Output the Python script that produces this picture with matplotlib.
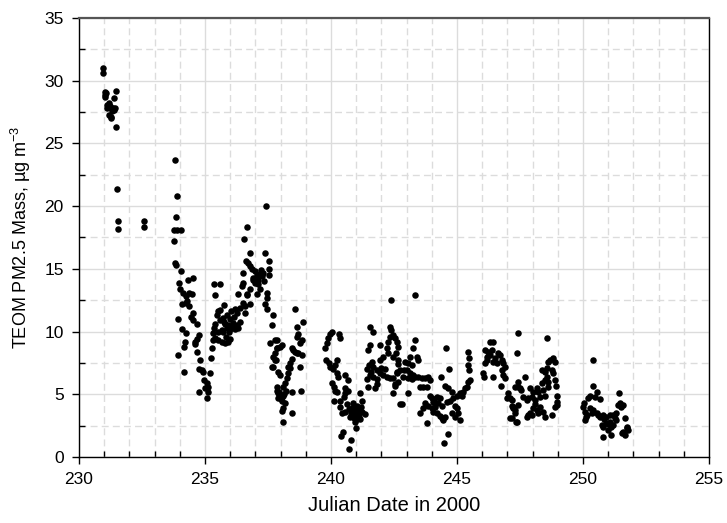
import matplotlib
matplotlib.use("Agg")
import matplotlib.pyplot as plt
from matplotlib.ticker import MultipleLocator

plt.rcParams['font.family'] = ['Liberation Sans', 'DejaVu Sans']

# TEOM PM2.5 readings, grouped by stretch of days
seg_a_x = [230.96, 230.94, 231.02, 231.05, 231.08, 231.03, 231.10, 231.15, 231.18, 231.22,
           231.12, 231.20, 231.25, 231.28, 231.30, 231.33, 231.45, 231.40, 231.47, 231.38,
           231.43, 231.50, 231.53, 231.53, 232.56, 232.56, 231.14, 231.24]
seg_a_y = [31.0, 30.6, 29.1, 28.9, 29.0, 28.7, 28.1, 28.0, 28.2, 27.9,
           27.8, 27.3, 27.1, 27.0, 27.6, 27.8, 29.2, 28.6, 26.3, 27.7,
           27.8, 21.4, 18.8, 18.2, 18.8, 18.3, 27.9, 28.0]

seg_b_x = [233.81, 233.87, 233.85, 233.75, 233.90, 234.03, 233.78, 233.81, 233.85, 234.03,
           233.98, 234.00, 234.14, 234.25, 234.37, 234.47, 234.54, 234.34, 234.08, 234.25,
           234.37, 234.30, 233.94, 234.51, 234.54, 234.70, 234.10, 234.23, 234.77, 234.70,
           234.60, 234.20, 234.17, 233.94, 234.17, 234.67, 234.80, 234.87, 234.77, 234.93,
           234.96, 235.07, 235.00, 235.10, 235.13, 234.77, 235.09, 234.62, 234.45]
seg_b_y = [23.7, 20.8, 19.1, 18.1, 18.1, 18.1, 17.2, 15.5, 15.3, 14.85,
           13.9, 13.4, 13.1, 12.8, 13.1, 13.0, 14.3, 14.1, 12.2, 12.3,
           12.0, 12.4, 11.0, 11.45, 10.95, 10.6, 10.2, 9.9, 9.7, 9.4,
           9.2, 9.2, 8.8, 8.1, 6.8, 8.4, 7.7, 6.9, 7.0, 6.8,
           6.1, 5.9, 5.5, 5.2, 5.6, 5.2, 4.7, 9.0, 11.2]

seg_c_x = [235.20, 235.22, 235.26, 235.30, 235.33, 235.36, 235.40, 235.46, 235.53, 235.60,
           235.40, 235.37, 235.60, 235.40, 235.53, 235.66, 235.80, 235.93, 236.00, 235.60,
           235.73, 235.86, 235.99, 236.12, 236.26, 235.80, 235.93, 235.76, 235.66, 235.86,
           236.06, 236.19, 236.32, 236.28, 236.39, 236.52, 236.65, 236.32, 236.45, 236.52,
           236.59, 236.79, 236.65, 236.79, 236.92, 237.05, 237.18, 237.31, 237.25, 237.12,
           236.52, 236.63, 236.72, 236.79, 236.85, 236.98, 236.79, 236.55, 236.68, 237.42,
           237.38, 237.52, 237.55, 237.52, 237.12, 237.18, 237.05, 237.45, 237.47, 237.38,
           237.45, 237.68, 237.64, 237.58, 237.84, 237.85, 237.76, 237.80, 237.64, 237.85,
           237.90, 237.90, 235.70, 236.05, 236.15, 235.95, 236.40, 236.90, 237.00, 237.22,
           235.50, 235.85, 236.20, 236.60, 237.35, 235.75, 236.00]
seg_c_y = [6.7, 7.9, 8.7, 9.3, 9.9, 10.3, 10.6, 11.3, 11.6, 11.7,
           12.9, 13.8, 13.8, 9.5, 9.3, 9.2, 9.1, 9.2, 9.4, 10.9,
           11.1, 11.3, 11.0, 10.7, 10.5, 10.6, 10.5, 12.1, 10.1, 10.3,
           10.4, 10.2, 10.3, 11.5, 11.9, 12.3, 12.9, 13.0, 13.6, 13.9,
           11.5, 12.2, 13.0, 13.4, 14.1, 14.5, 14.6, 14.7, 14.4, 14.1,
           14.7, 15.6, 15.5, 15.2, 15.0, 14.8, 16.3, 17.4, 18.3, 20.0,
           16.3, 15.6, 15.0, 14.5, 13.8, 13.4, 13.0, 13.1, 12.7, 12.2,
           11.8, 11.3, 10.5, 9.1, 9.3, 8.7, 8.3, 7.7, 7.2, 5.6,
           5.2, 4.7, 10.0, 11.6, 11.2, 10.0, 10.8, 14.3, 13.9, 14.9,
           10.0, 9.6, 11.8, 12.0, 14.0, 10.8, 10.2]

seg_d_x = [237.78, 237.87, 237.98, 238.04, 237.71, 237.78, 237.68, 237.91, 237.98, 237.84,
           237.91, 237.98, 238.04, 238.10, 237.95, 238.10, 238.17, 238.24, 238.30, 238.37,
           238.20, 238.04, 238.10, 238.08, 238.30, 238.37, 238.44, 238.44, 238.50, 238.57,
           238.64, 238.70, 238.84, 238.64, 238.70, 238.84, 238.77, 238.64, 238.87, 238.57,
           238.77, 238.81, 238.44, 238.46, 238.17, 238.00, 238.14]
seg_d_y = [9.3, 8.7, 8.8, 8.9, 8.0, 7.7, 7.2, 6.8, 6.5, 5.3,
           5.07, 4.8, 4.5, 4.9, 5.2, 5.6, 5.9, 6.3, 6.7, 7.1,
           5.3, 3.7, 3.9, 2.8, 7.2, 7.5, 7.85, 8.66, 8.5, 8.4,
           8.3, 8.26, 8.1, 9.6, 9.8, 9.3, 9.06, 10.4, 10.8, 11.8,
           7.2, 5.3, 5.2, 3.5, 4.3, 4.6, 5.0]

seg_e_x = [240.03, 239.96, 239.90, 239.83, 239.76, 240.30, 240.34, 239.80, 239.92, 239.97,
           240.08, 240.22, 240.16, 240.22, 240.29, 240.03, 240.10, 240.16, 240.22, 240.13,
           240.36, 240.56, 240.66, 240.56, 240.69, 240.56, 240.50, 240.36, 240.43, 240.56,
           240.70, 240.83, 240.90, 240.97, 241.03, 241.10, 241.23, 241.36, 240.95, 241.10,
           240.76, 240.90, 241.00, 240.80, 240.46, 240.40, 240.79, 240.71, 241.00, 241.15,
           241.22, 241.18, 241.05, 240.62, 240.88, 240.93, 241.07, 241.15]
seg_e_y = [10.0, 9.8, 9.5, 9.06, 8.7, 9.8, 9.5, 7.7, 7.5, 7.2,
           7.0, 7.7, 7.3, 6.7, 6.4, 5.9, 5.6, 5.3, 5.2, 4.5,
           4.5, 6.5, 6.1, 5.5, 5.3, 5.07, 4.8, 3.99, 3.5, 3.6,
           3.8, 3.9, 3.6, 3.3, 3.0, 3.6, 3.6, 3.4, 2.8, 3.2,
           3.2, 3.4, 3.8, 3.5, 2.0, 1.67, 1.35, 0.6, 2.3, 5.1,
           4.5, 3.99, 4.1, 4.2, 4.3, 3.1, 3.4, 3.0]

seg_f_x = [241.41, 241.52, 241.61, 241.68, 241.81, 241.94, 242.08, 242.21, 242.34, 241.55,
           241.68, 241.81, 241.41, 241.48, 241.75, 241.81, 241.55, 241.66, 241.55, 241.48,
           241.94, 242.21, 242.27, 242.08, 241.94, 242.40, 242.34, 242.40, 242.47, 242.54,
           242.60, 242.67, 242.57, 242.47, 242.67, 242.27, 242.34, 242.67, 242.60, 242.47,
           242.54, 242.74, 243.33, 243.33, 243.27, 243.13, 243.40, 243.46, 242.94, 243.07,
           243.20, 243.00, 243.13, 243.27, 242.74, 242.60, 242.87, 243.07, 243.33, 243.46,
           243.60, 243.73, 243.86, 243.93, 243.53, 243.66, 243.80, 242.67, 242.54, 242.47,
           243.07, 242.80, 241.60, 242.00, 242.15, 242.90, 243.20]
seg_f_y = [7.0, 7.3, 7.6, 7.2, 6.9, 6.7, 6.5, 6.4, 6.3, 6.5,
           6.4, 6.2, 6.2, 5.6, 5.5, 5.8, 10.4, 10.0, 8.9, 8.5,
           8.9, 8.66, 8.26, 8.0, 7.7, 12.5, 10.4, 10.1, 9.7, 9.5,
           9.2, 8.8, 8.26, 8.0, 7.7, 9.2, 9.6, 7.4, 6.7, 6.3,
           5.8, 4.2, 12.9, 9.3, 8.7, 8.0, 8.0, 7.7, 7.6, 7.5,
           7.3, 6.9, 6.7, 6.5, 6.9, 6.8, 6.4, 6.3, 6.4, 6.4,
           6.3, 6.3, 6.35, 6.1, 5.6, 5.6, 5.6, 6.0, 5.7, 5.1,
           5.1, 4.2, 6.8, 7.1, 7.0, 6.9, 6.2]

seg_g_x = [243.93, 243.99, 244.06, 244.19, 244.33, 244.26, 244.13, 243.99, 243.86, 243.73,
           243.66, 243.53, 244.06, 244.19, 244.33, 244.39, 244.46, 244.52, 243.80, 244.35,
           244.56, 244.70, 244.52, 244.66, 244.79, 244.72, 244.85, 244.99, 245.12, 245.25,
           245.38, 245.45, 245.52, 245.32, 245.19, 244.92, 244.99, 245.05, 245.12, 244.92,
           244.79, 244.66, 244.50, 245.45, 245.49, 245.42, 245.46, 244.10, 244.40, 244.60]
seg_g_y = [4.9, 4.7, 4.4, 4.8, 4.7, 4.3, 4.0, 3.9, 4.1, 4.3,
           3.9, 3.5, 3.6, 3.5, 3.3, 3.1, 2.95, 3.2, 2.7, 6.4,
           8.7, 7.0, 5.7, 5.5, 5.2, 4.5, 4.7, 4.9, 5.1, 5.2,
           5.6, 6.0, 6.1, 5.5, 4.9, 4.1, 3.9, 3.5, 2.95, 3.2,
           3.5, 1.8, 1.1, 8.4, 7.9, 7.3, 6.9, 4.5, 4.1, 4.4]

seg_h_x = [246.30, 246.44, 246.11, 246.24, 246.37, 246.31, 246.18, 246.11, 246.04, 246.07,
           246.44, 246.58, 246.71, 246.77, 246.84, 246.90, 246.77, 246.84, 246.90, 246.73,
           246.44, 247.04, 247.10, 246.97, 247.17, 247.24, 247.10, 247.30, 247.37, 247.43,
           247.37, 247.43, 246.20, 246.50, 246.62]
seg_h_y = [9.2, 9.2, 8.5, 8.4, 8.5, 8.1, 7.7, 7.5, 6.7, 6.35,
           7.6, 7.5, 8.1, 7.7, 7.5, 7.2, 6.9, 6.5, 6.3, 5.7,
           6.4, 5.1, 4.7, 4.7, 4.1, 3.9, 3.1, 3.5, 2.8, 9.9,
           8.3, 5.6, 8.0, 7.9, 8.3]

seg_i_x = [247.17, 247.23, 247.30, 247.17, 247.36, 247.43, 247.30, 247.43, 247.50, 247.56,
           247.70, 247.63, 247.76, 247.83, 247.90, 248.03, 247.96, 248.09, 248.16, 248.22,
           248.29, 248.43, 248.49, 247.76, 247.83, 247.90, 248.03, 247.96, 248.16, 248.29,
           248.22, 248.43, 248.49, 248.76, 248.36, 248.36, 248.49, 248.56, 248.62, 248.69,
           248.83, 248.89, 248.76, 248.83, 248.56, 248.49, 248.62, 248.89, 248.93, 248.96,
           248.96, 248.96, 248.89, 248.56, 248.10, 248.60]
seg_i_y = [4.55, 4.0, 3.75, 3.1, 2.8, 4.15, 5.6, 6.0, 5.5, 5.34,
           6.4, 4.8, 4.55, 4.7, 5.5, 5.2, 4.8, 4.55, 5.5, 5.2,
           4.8, 5.34, 4.9, 3.2, 3.35, 3.5, 3.9, 3.35, 3.75, 4.0,
           3.5, 3.6, 3.2, 3.35, 5.9, 6.9, 6.8, 7.06, 7.6, 7.7,
           7.86, 7.6, 6.9, 6.7, 6.4, 6.1, 6.0, 6.1, 5.65, 4.9,
           4.4, 4.15, 4.0, 9.46, 4.2, 5.6]

seg_j_x = [250.38, 250.41, 250.57, 250.27, 250.20, 250.67, 250.47, 250.01, 250.07, 250.14,
           250.07, 250.27, 250.34, 250.41, 250.54, 250.60, 250.67, 250.80, 250.93, 251.07,
           251.20, 251.33, 250.74, 250.80, 250.93, 251.07, 251.13, 251.00, 250.80, 251.10,
           251.27, 251.20, 251.33, 251.44, 251.40, 251.47, 251.60, 251.67, 251.73, 251.60,
           251.80, 251.67, 251.53, 250.04, 250.10, 250.85, 251.00, 251.50, 251.75]
seg_j_y = [7.7, 5.65, 5.2, 4.9, 4.7, 4.6, 4.8, 3.96, 3.6, 3.35,
           2.95, 3.88, 3.48, 3.75, 3.48, 3.35, 3.22, 3.35, 3.22, 3.35,
           3.35, 3.48, 2.55, 2.42, 2.7, 2.82, 2.42, 2.15, 1.6, 1.75,
           3.08, 2.55, 2.95, 5.1, 4.15, 4.28, 4.15, 3.08, 2.28, 2.02,
           2.15, 1.75, 1.88, 4.3, 3.2, 3.0, 2.6, 4.0, 2.4]

days = (seg_a_x + seg_b_x + seg_c_x + seg_d_x + seg_e_x + seg_f_x
        + seg_g_x + seg_h_x + seg_i_x + seg_j_x)
mass = (seg_a_y + seg_b_y + seg_c_y + seg_d_y + seg_e_y + seg_f_y
        + seg_g_y + seg_h_y + seg_i_y + seg_j_y)

fig = plt.figure(figsize=(7.27, 5.23), dpi=100)
ax = fig.add_axes([0.1087, 0.1262, 0.8665, 0.8394])

ax.scatter(days, mass, s=22, color='black', linewidths=0, zorder=3)

ax.set_xlim(230, 255)
ax.set_ylim(0, 35)
ax.xaxis.set_major_locator(MultipleLocator(5))
ax.xaxis.set_minor_locator(MultipleLocator(1))
ax.yaxis.set_major_locator(MultipleLocator(5))
ax.yaxis.set_minor_locator(MultipleLocator(2.5))

ax.grid(True, which='major', color='#dcdcdc', lw=1.0, ls='-', zorder=0)
ax.grid(True, which='minor', color='#dcdcdc', lw=1.0, ls=(0, (5, 3)), zorder=0)
ax.set_axisbelow(True)

ax.tick_params(which='major', direction='out', length=5, width=1, labelsize=12.5, pad=6)
ax.tick_params(which='minor', direction='in', length=4, width=1)

for side in ['left', 'bottom', 'right']:
    ax.spines[side].set_color('black')
    ax.spines[side].set_linewidth(1)
ax.spines['top'].set_color('#555555')
ax.spines['top'].set_linewidth(1.6)

ax.set_xlabel('Julian Date in 2000', fontsize=14.5, labelpad=6)
ax.set_ylabel('TEOM PM2.5 Mass, µg m$^{\\mathregular{-3}}$', fontsize=13, labelpad=8)

fig.savefig('out.png', dpi=100)
